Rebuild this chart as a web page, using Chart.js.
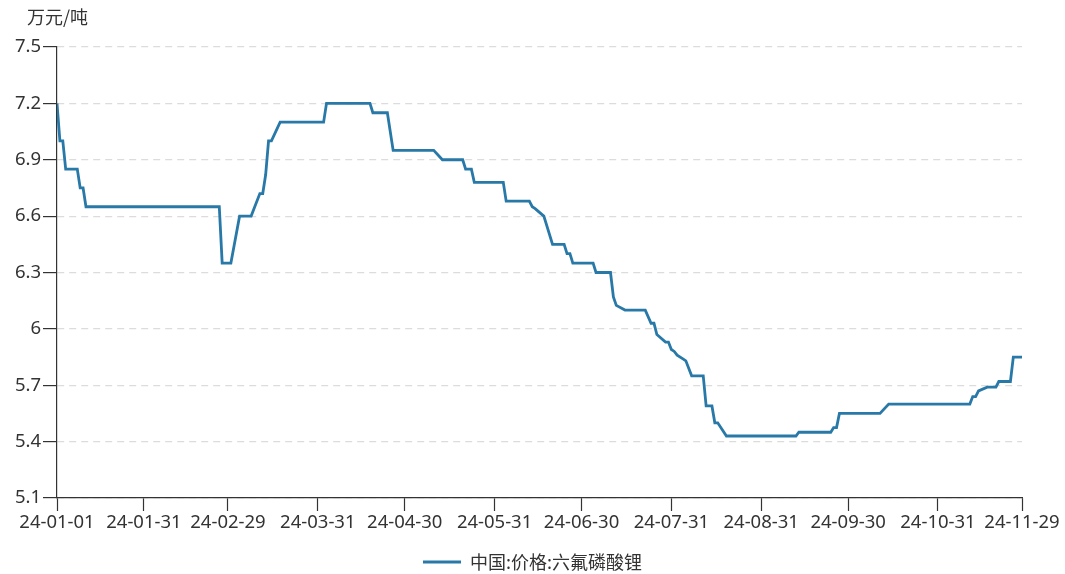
<!DOCTYPE html>
<html>
<head>
<meta charset="utf-8">
<script src="https://cdn.jsdelivr.net/npm/chart.js@4.4.1/dist/chart.umd.min.js"></script>
<style>
  html, body { margin: 0; padding: 0; background: #fff; }
  #wrap { width: 1065px; height: 574px; position: relative; }
</style>
</head>
<body>
<div id="wrap"><canvas id="priceChart"></canvas></div>
<script>
// 中国:价格:六氟磷酸锂 (万元/吨), turning points
const dates = [
  '2024-01-01', '2024-01-02', '2024-01-03', '2024-01-04', '2024-01-08', '2024-01-09',
  '2024-01-10', '2024-01-11', '2024-02-26', '2024-02-27', '2024-03-01', '2024-03-04',
  '2024-03-08', '2024-03-11', '2024-03-12', '2024-03-13', '2024-03-14', '2024-03-15',
  '2024-03-18', '2024-04-02', '2024-04-03', '2024-04-18', '2024-04-19', '2024-04-24',
  '2024-04-26', '2024-05-10', '2024-05-13', '2024-05-20', '2024-05-21', '2024-05-23',
  '2024-05-24', '2024-06-03', '2024-06-04', '2024-06-12', '2024-06-13', '2024-06-14',
  '2024-06-17', '2024-06-20', '2024-06-24', '2024-06-25', '2024-06-26', '2024-06-27',
  '2024-07-04', '2024-07-05', '2024-07-10', '2024-07-11', '2024-07-12', '2024-07-15',
  '2024-07-22', '2024-07-24', '2024-07-25', '2024-07-26', '2024-07-29', '2024-07-30',
  '2024-07-31', '2024-08-01', '2024-08-02', '2024-08-04', '2024-08-05', '2024-08-07',
  '2024-08-11', '2024-08-12', '2024-08-14', '2024-08-15', '2024-08-16', '2024-08-19',
  '2024-08-20', '2024-09-12', '2024-09-13', '2024-09-24', '2024-09-25', '2024-09-26',
  '2024-09-27', '2024-10-11', '2024-10-14', '2024-11-11', '2024-11-12', '2024-11-13',
  '2024-11-14', '2024-11-17', '2024-11-20', '2024-11-21', '2024-11-25', '2024-11-26',
  '2024-11-29'
];
const prices = [
  7.2, 7.0, 7.0, 6.85, 6.85, 6.75,
  6.75, 6.65, 6.65, 6.35, 6.35, 6.6,
  6.6, 6.72, 6.72, 6.82, 7.0, 7.0,
  7.1, 7.1, 7.2, 7.2, 7.15, 7.15,
  6.95, 6.95, 6.9, 6.9, 6.85, 6.85,
  6.78, 6.78, 6.68, 6.68, 6.65, 6.64,
  6.6, 6.45, 6.45, 6.4, 6.4, 6.35,
  6.35, 6.3, 6.3, 6.17, 6.125, 6.1,
  6.1, 6.03, 6.03, 5.97, 5.93, 5.93,
  5.89, 5.88, 5.86, 5.84, 5.83, 5.75,
  5.75, 5.59, 5.59, 5.5, 5.5, 5.43,
  5.43, 5.43, 5.45, 5.45, 5.475, 5.475,
  5.55, 5.55, 5.6, 5.6, 5.64, 5.64,
  5.67, 5.69, 5.69, 5.72, 5.72, 5.85,
  5.85
];
const tickDates = [
  '2024-01-01', '2024-01-31', '2024-02-29', '2024-03-31', '2024-04-30', '2024-05-31',
  '2024-06-30', '2024-07-31', '2024-08-31', '2024-09-30', '2024-10-31', '2024-11-29'
];
const seriesName = '中国:价格:六氟磷酸锂';
const unitLabel = '万元/吨';

const DAY = 86400000;
const start = Date.parse(dates[0]);
const dayIndex = d => Math.round((Date.parse(d) - start) / DAY);
const tickIdx = tickDates.map(dayIndex);
const shortDate = d => d.slice(2);

const points = dates.map((d, i) => ({ x: dayIndex(d), y: prices[i] }));

const fontFamily = '"Noto Sans", "Noto Sans CJK SC", sans-serif';
const cjkFamily = '"Noto Sans CJK SC", sans-serif';
const textColor = '#333';
const lineColor = '#2878a8';

new Chart(document.getElementById('priceChart'), {
  type: 'line',
  data: {
    datasets: [{
      label: seriesName,
      data: points,
      borderColor: lineColor,
      backgroundColor: lineColor,
      borderWidth: 2.8,
      pointRadius: 0,
      tension: 0
    }]
  },
  options: {
    responsive: true,
    maintainAspectRatio: false,
    animation: false,
    layout: { padding: { left: 8, right: 43, top: 0, bottom: -7 } },
    scales: {
      x: {
        type: 'linear',
        min: 0,
        max: tickIdx[tickIdx.length - 1],
        afterBuildTicks: axis => {
          axis.ticks = tickIdx.map(v => ({ value: v }));
        },
        afterFit: axis => { axis.height = 51; },
        ticks: {
          autoSkip: false,
          maxRotation: 0,
          padding: 1,
          color: textColor,
          font: { family: fontFamily, size: 18.5 },
          callback: v => {
            const k = tickIdx.indexOf(v);
            return k >= 0 ? shortDate(tickDates[k]) : '';
          }
        },
        grid: {
          drawOnChartArea: false,
          drawTicks: true,
          tickLength: 13,
          tickColor: textColor,
          tickWidth: 1.2
        },
        border: { color: textColor, width: 1.2 }
      },
      y: {
        min: 5.1,
        max: 7.5,
        afterFit: axis => { axis.width = 49; },
        ticks: {
          stepSize: 0.3,
          padding: 2,
          color: textColor,
          font: { family: fontFamily, size: 18.5 },
          callback: v => String(+v.toFixed(1))
        },
        grid: {
          color: '#dcdcdc',
          lineWidth: 1.2,
          tickLength: 14,
          tickColor: textColor,
          tickWidth: 1.2
        },
        border: { color: textColor, width: 1.2, dash: [7, 5] }
      }
    },
    plugins: {
      title: {
        display: true,
        text: unitLabel,
        align: 'start',
        color: textColor,
        font: { family: cjkFamily, size: 18, weight: 'normal' },
        padding: { top: 6, bottom: 19.4 }
      },
      legend: {
        position: 'bottom',
        labels: {
          usePointStyle: true,
          pointStyle: 'line',
          pointStyleWidth: 38,
          padding: 4,
          color: textColor,
          font: { family: cjkFamily, size: 18 }
        }
      },
      tooltip: { enabled: false }
    }
  },
  plugins: [{
    id: 'blockOffsets',
    afterLayout: chart => {
      const t = chart.titleBlock;
      if (t) { t.left = 27; }
      // centre the legend on the whole canvas, not on the padded box
      const lg = chart.legend;
      if (lg) {
        const shift = chart.width / 2 - (lg.left + lg.right) / 2;
        lg.left += shift;
        lg.right += shift;
      }
    }
  }]
});
</script>
</body>
</html>
